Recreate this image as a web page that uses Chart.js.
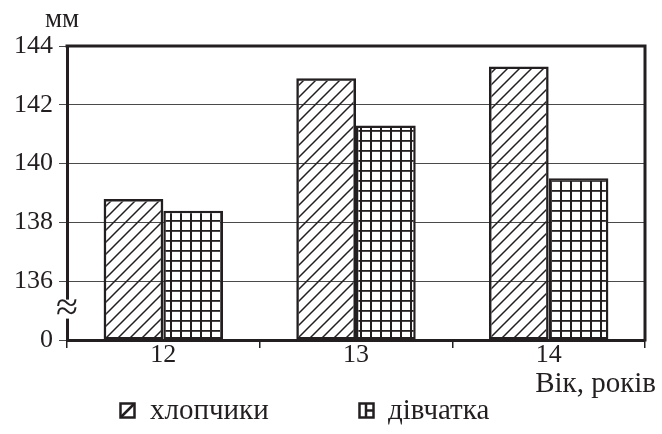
<!DOCTYPE html>
<html>
<head>
<meta charset="utf-8">
<script src="https://cdn.jsdelivr.net/npm/chart.js@4.4.0/dist/chart.umd.min.js"></script>
<style>
  html, body { margin: 0; padding: 0; background: #fff; }
  #wrap { width: 662px; height: 434px; }
</style>
</head>
<body>
<div id="wrap"><canvas id="chart" width="662" height="434"></canvas></div>
<script>
// вік, років
const ages = ['12', '13', '14'];
// зріст, мм (шкала з розривом: низ осі підписано як 0)
const boys = [138.8, 142.9, 143.3];
const girls = [138.4, 141.3, 139.5];
const yMin = 134;
const yMax = 144;
const yStep = 2;

const INK = '#231f20';
const SERIF = '"Liberation Serif", "DejaVu Serif", serif';

function hatchPattern() {
  const c = document.createElement('canvas');
  c.width = 12; c.height = 12;
  const g = c.getContext('2d');
  g.strokeStyle = INK;
  g.lineWidth = 1.5;
  g.beginPath();
  g.moveTo(0, 12); g.lineTo(12, 0);
  g.moveTo(-6, 6); g.lineTo(6, -6);
  g.moveTo(6, 18); g.lineTo(18, 6);
  g.stroke();
  return g.createPattern(c, 'repeat');
}

function gridPattern() {
  const c = document.createElement('canvas');
  c.width = 10; c.height = 10;
  const g = c.getContext('2d');
  g.fillStyle = '#fff';
  g.fillRect(0, 0, 10, 10);
  g.fillStyle = INK;
  g.fillRect(0, 0, 2, 10);
  g.fillRect(0, 0, 10, 1.8);
  return g.createPattern(c, 'repeat');
}

// значок легенди
function drawIcon(g, kind, x, y) {
  g.save();
  g.strokeStyle = INK;
  g.lineWidth = 2.5;
  g.strokeRect(x + 1.5, y + 1.5, 14, 14);
  g.beginPath();
  if (kind === 'hatch') {
    g.moveTo(x + 2, y + 15); g.lineTo(x + 15, y + 2);
  } else {
    g.moveTo(x + 8, y + 2); g.lineTo(x + 8, y + 15);
    g.moveTo(x + 8, y + 8.5); g.lineTo(x + 15, y + 8.5);
  }
  g.stroke();
  g.restore();
}

const legendSpots = [
  { kind: 'hatch', icon: 119, text: 150 },
  { kind: 'grid', icon: 358, text: 388 }
];

const decor = {
  id: 'decor',
  afterDraw(chart) {
    const { ctx, chartArea: a } = chart;
    const y = chart.scales.y;
    ctx.save();
    ctx.strokeStyle = INK;
    ctx.lineWidth = 3;
    ctx.beginPath();
    ctx.moveTo(a.left - 1.5, a.top);
    ctx.lineTo(a.right, a.top);
    ctx.lineTo(a.right, a.bottom + 1.5);
    ctx.stroke();

    // розрив осі
    const yb = (y.getPixelForValue(yMin + yStep) + a.bottom) / 2;
    ctx.fillStyle = '#fff';
    ctx.fillRect(a.left - 4, yb - 11, 8, 19);
    ctx.fillStyle = INK;
    ctx.font = '40px ' + SERIF;
    ctx.textAlign = 'center';
    ctx.textBaseline = 'middle';
    ctx.fillText('\u2248', a.left, yb - 1);

    // одиниці
    ctx.font = '27px ' + SERIF;
    ctx.textAlign = 'left';
    ctx.textBaseline = 'alphabetic';
    ctx.fillText('мм', 45, 27);

    // підпис осі x
    ctx.font = '29px ' + SERIF;
    ctx.textAlign = 'right';
    ctx.fillText('Вік, років', 656, 392);

    // легенда
    ctx.textAlign = 'left';
    chart.data.datasets.forEach((ds, i) => {
      const s = legendSpots[i];
      drawIcon(ctx, s.kind, s.icon, 402);
      ctx.fillStyle = INK;
      ctx.fillText(ds.label, s.text, 419);
    });
    ctx.restore();
  }
};

const ctx = document.getElementById('chart').getContext('2d');
new Chart(ctx, {
  type: 'bar',
  data: {
    labels: ages,
    datasets: [
      {
        label: 'хлопчики',
        data: boys,
        base: yMin,
        backgroundColor: hatchPattern(),
        borderColor: INK,
        borderWidth: 2.5,
        borderSkipped: false,
      },
      {
        label: 'дівчатка',
        data: girls,
        base: yMin,
        backgroundColor: gridPattern(),
        borderColor: INK,
        borderWidth: 2.5,
        borderSkipped: false,
      }
    ],
  },
  options: {
    responsive: false,
    animation: false,
    layout: { padding: { top: 46, right: 17, left: 0, bottom: 62 } },
    datasets: {
      bar: { categoryPercentage: 0.62, barPercentage: 1 }
    },
    scales: {
      x: {
        offset: true,
        afterFit(scale) { scale.height = 32; },
        grid: { offset: true, drawOnChartArea: false, tickLength: 8, color: INK, lineWidth: 1.5 },
        border: { color: INK, width: 3 },
        ticks: { color: INK, font: { family: SERIF, size: 26 }, padding: -8 }
      },
      y: {
        min: yMin,
        max: yMax,
        afterFit(scale) { scale.width = 67; },
        grid: { color: '#4a4a4a', lineWidth: 1, tickLength: 8 },
        border: { color: INK, width: 3 },
        ticks: {
          stepSize: yStep,
          color: INK,
          padding: 6,
          font: { family: SERIF, size: 26 },
          callback: (v) => (v === yMin ? '0' : v)
        }
      }
    },
    plugins: {
      legend: { display: false },
      tooltip: { enabled: false }
    }
  },
  plugins: [decor]
});
</script>
</body>
</html>
